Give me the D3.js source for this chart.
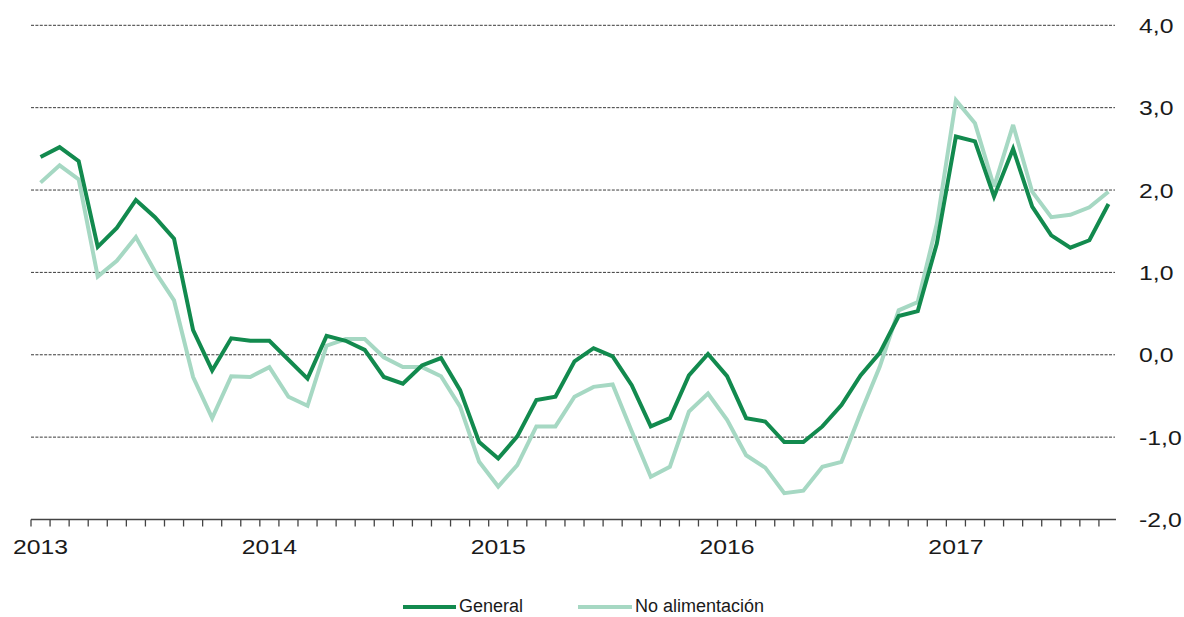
<!DOCTYPE html>
<html>
<head>
<meta charset="utf-8">
<script src="https://cdn.jsdelivr.net/npm/d3@7"></script>
<style>
  html, body { margin: 0; padding: 0; background: #fff; }
  svg { display: block; font-family: "Liberation Sans", Arial, sans-serif; }
</style>
</head>
<body>
<svg id="chart" width="1184" height="617"></svg>
<script>
// ---- Data (monthly, Jan 2013 - Sep 2017) ----
const years = [2013, 2014, 2015, 2016, 2017];
const monthsPerYear = 12;
const nMonths = 57;
const yTicks = [-2, -1, 0, 1, 2, 3, 4];

const general = [
  2.40, 2.52, 2.35, 1.31, 1.54, 1.88, 1.67, 1.41, 0.30, -0.19, 0.20, 0.17,
  0.17, -0.06, -0.29, 0.23, 0.17, 0.06, -0.27, -0.35, -0.13, -0.04, -0.43, -1.06,
  -1.26, -0.99, -0.55, -0.51, -0.08, 0.08, -0.02, -0.37, -0.87, -0.77, -0.25, 0.01,
  -0.26, -0.77, -0.81, -1.06, -1.06, -0.87, -0.61, -0.25, 0.02, 0.47, 0.53, 1.35,
  2.65, 2.59, 1.92, 2.50, 1.80, 1.45, 1.30, 1.39, 1.83
];
const noAlimentacion = [
  2.09, 2.30, 2.13, 0.95, 1.14, 1.43, 1.01, 0.66, -0.27, -0.77, -0.26, -0.27,
  -0.15, -0.51, -0.62, 0.11, 0.19, 0.19, -0.03, -0.15, -0.15, -0.26, -0.63, -1.30,
  -1.60, -1.34, -0.87, -0.87, -0.51, -0.39, -0.36, -0.93, -1.48, -1.36, -0.69, -0.47,
  -0.79, -1.22, -1.37, -1.68, -1.65, -1.36, -1.30, -0.71, -0.15, 0.54, 0.64, 1.59,
  3.09, 2.81, 2.04, 2.79, 1.98, 1.67, 1.70, 1.79, 1.98
];
const seriesNames = ["General", "No alimentación"];
const seriesColors = ["#128a4e", "#a6d8c3"];

// ---- Layout ----
const svg = d3.select("#chart");
const plotLeft = 31, plotRight = 1118, plotTop = 25.3, plotBottom = 519.5;
const stretchX = 1.18; // horizontal text stretch of the original

const x = d3.scaleBand().domain(d3.range(nMonths)).range([plotLeft, plotRight]).paddingInner(0).paddingOuter(0);
const y = d3.scaleLinear().domain([-2, 4]).range([plotBottom, plotTop]);
const cx = i => x(i) + x.bandwidth() / 2;

// gridlines
svg.append("g").selectAll("line")
  .data(yTicks.filter(v => v > -2))
  .join("line")
  .attr("x1", plotLeft).attr("x2", 1115)
  .attr("y1", d => y(d)).attr("y2", d => y(d))
  .attr("stroke", "#3a3a3a").attr("stroke-width", 1)
  .attr("stroke-dasharray", "3,1.4");

// y labels (right side)
svg.append("g").selectAll("text")
  .data(yTicks)
  .join("text")
  .attr("transform", d => `translate(1139,${y(d)}) scale(${stretchX},1)`)
  .attr("dy", "0.36em")
  .attr("font-size", 21)
  .attr("fill", "#1a1a1a")
  .text(d => d3.format(".1f")(d).replace(".", ",").replace("\u2212", "-"));

// bottom axis
const axisG = svg.append("g");
axisG.append("line")
  .attr("x1", plotLeft).attr("x2", 1116)
  .attr("y1", plotBottom).attr("y2", plotBottom)
  .attr("stroke", "#444").attr("stroke-width", 1.3);
axisG.selectAll("line.tick")
  .data(d3.range(nMonths))
  .join("line")
  .attr("class", "tick")
  .attr("x1", d => x(d)).attr("x2", d => x(d))
  .attr("y1", plotBottom).attr("y2", plotBottom + 7)
  .attr("stroke", "#444").attr("stroke-width", 1.3);

// year labels
axisG.selectAll("text")
  .data(years)
  .join("text")
  .attr("transform", (d, i) => `translate(${cx(i * monthsPerYear)},554) scale(${stretchX},1)`)
  .attr("text-anchor", "middle")
  .attr("font-size", 21)
  .attr("fill", "#1a1a1a")
  .text(d => d);

// lines
const line = d3.line().x((d, i) => cx(i)).y(d => y(d));
[noAlimentacion, general].forEach((s, k) => {
  const color = k === 0 ? seriesColors[1] : seriesColors[0];
  svg.append("path")
    .datum(s)
    .attr("d", line)
    .attr("fill", "none")
    .attr("stroke", color)
    .attr("stroke-width", 4)
    .attr("stroke-linejoin", "miter")
    .attr("stroke-miterlimit", 3);
});

// legend
const legendItems = [
  { name: seriesNames[0], color: seriesColors[0], x1: 403, x2: 456 },
  { name: seriesNames[1], color: seriesColors[1], x1: 578, x2: 632 }
];
const lg = svg.append("g");
legendItems.forEach(it => {
  lg.append("line")
    .attr("x1", it.x1).attr("x2", it.x2)
    .attr("y1", 607).attr("y2", 607)
    .attr("stroke", it.color).attr("stroke-width", 4);
  lg.append("text")
    .attr("x", it.x2 + 3)
    .attr("y", 612)
    .attr("font-size", 18)
    .attr("fill", "#1a1a1a")
    .text(it.name);
});
</script>
</body>
</html>
